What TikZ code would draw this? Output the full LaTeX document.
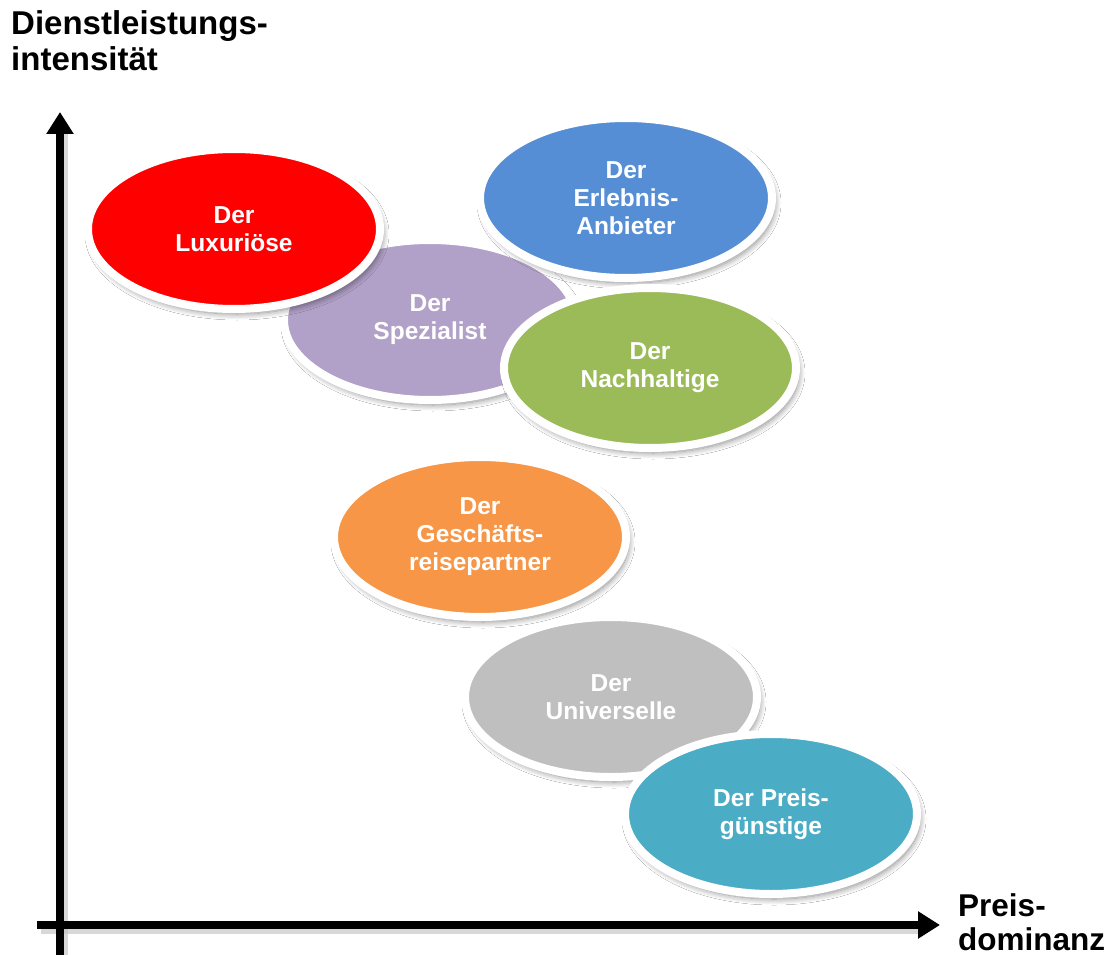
\documentclass[tikz,border=0pt]{standalone}
\usepackage{fontspec}
\setmainfont{Liberation Sans}
\usetikzlibrary{shapes.geometric,arrows.meta,shadows.blur}
\definecolor{cRed}{HTML}{FF0000}
\definecolor{cPurple}{HTML}{B1A0C7}
\definecolor{cBlue}{HTML}{558ED5}
\definecolor{cGreen}{HTML}{9BBB59}
\definecolor{cOrange}{HTML}{F79646}
\definecolor{cGray}{HTML}{BFBFBF}
\definecolor{cTeal}{HTML}{4BACC6}
\tikzset{
  blob/.style={ellipse, draw=white, line width=8pt, minimum width=292pt, minimum height=160pt,
    inner sep=0pt, align=center, text=white,
    font=\fontsize{24.5}{28}\selectfont\bfseries,
    blur shadow={shadow xshift=3pt, shadow yshift=-5pt, shadow blur steps=12, shadow opacity=45, shadow blur radius=6pt}},
  axis/.style={line width=8pt, -{Triangle[width=26pt,length=22pt]}},
  axlabel/.style={font=\fontsize{33}{36}\selectfont\bfseries, align=left, inner sep=0pt}
}
\begin{document}
\begin{tikzpicture}[x=1pt,y=-1pt]
\useasboundingbox[fill=white] (0,0) rectangle (1120,955);
% axes shadows
\draw[line width=8pt, black!25, opacity=0.6] (64,960) -- (64,130);
\draw[line width=8pt, black!25, opacity=0.6] (41,930) -- (920,930);
\coordinate (ybot) at (60,960);
\coordinate (ytop) at (60,112);
\coordinate (xleft) at (37,925);
\coordinate (xright) at (940,925);
\draw[axis] (ybot) -- (ytop);
\draw[axis] (xleft) -- (xright);
% labels
\node[axlabel, anchor=north west] (ylab) at (11,10) {Dienstleistungs-\\intensität};
\node[axlabel, anchor=north west, font=\fontsize{31.5}{34}\selectfont\bfseries] (xlab) at (958,893) {Preis-\\dominanz};
% ellipses
\node[blob, fill=cPurple] (spez) at (430,320) {Der\\Spezialist};
\node[blob, fill=cRed] (lux) at (234,229) {Der\\Luxuriöse};
\node[blob, fill=cBlue] (erl) at (626,198) {Der\\Erlebnis-\\Anbieter};
\node[blob, fill=cGreen] (nach) at (650,368) {Der\\Nachhaltige};
\node[blob, fill=cOrange] (ges) at (480,537) {Der\\Geschäfts-\\reisepartner};
\node[blob, fill=cGray] (uni) at (611,697) {Der\\Universelle};
\node[blob, fill=cTeal] (preis) at (771,814) {Der Preis-\\günstige};
\end{tikzpicture}
\end{document}
